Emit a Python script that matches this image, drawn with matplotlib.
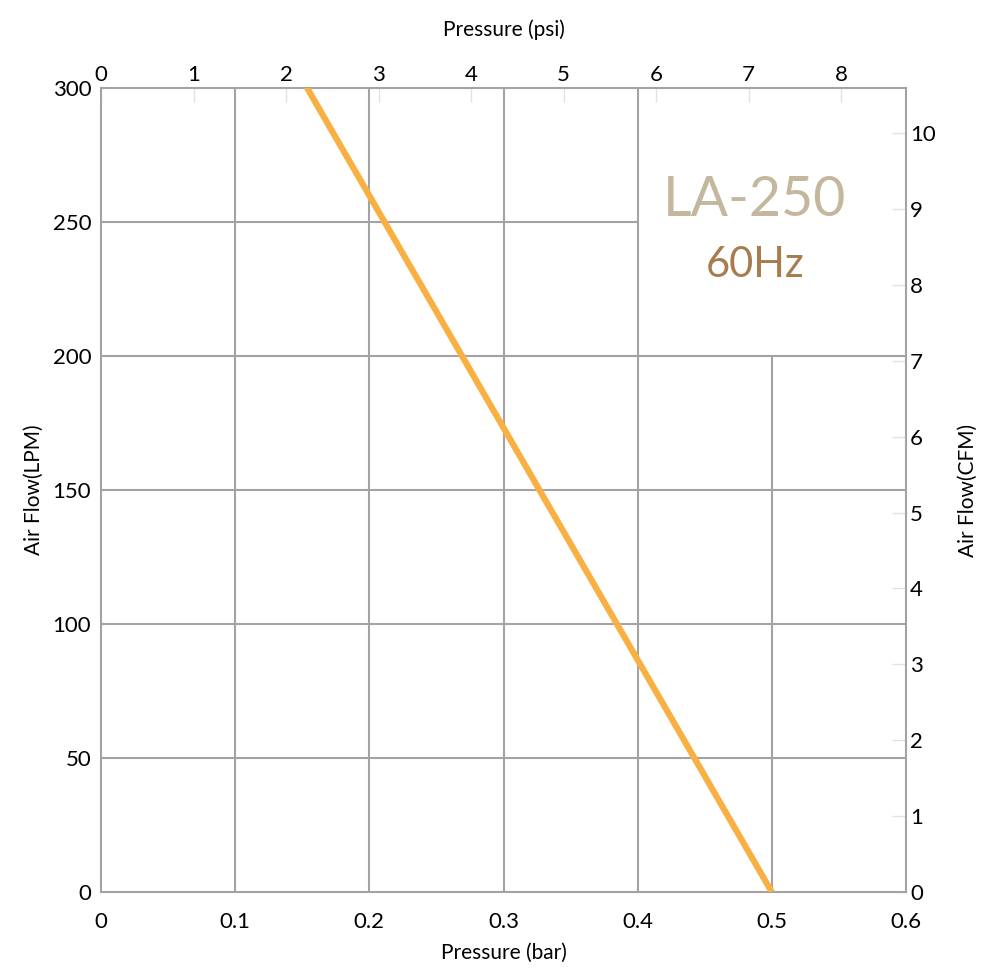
import numpy as np
import matplotlib
matplotlib.use('Agg')
import matplotlib.pyplot as plt

plt.rcParams['font.family'] = ['Lato', 'DejaVu Sans']

# performance curve of the LA-250 at 60Hz
pressure_bar = [0.0, 0.5]
flow_lpm = [433, 0]

bar_ticks = [0, 0.1, 0.2, 0.3, 0.4, 0.5, 0.6]
lpm_ticks = [0, 50, 100, 150, 200, 250, 300]
psi_ticks = [0, 1, 2, 3, 4, 5, 6, 7, 8]
cfm_ticks = [0, 1, 2, 3, 4, 5, 6, 7, 8, 9, 10]

# grid lines (value, from, to) - the label box at top right has none
h_grid = [(50, 0, 0.6), (100, 0, 0.6), (150, 0, 0.6), (200, 0, 0.6), (250, 0, 0.4)]
v_grid = [(0.1, 0, 300), (0.2, 0, 300), (0.3, 0, 300), (0.4, 0, 300), (0.5, 0, 200)]

PSI_PER_BAR = 14.5038
LPM_PER_CFM = 28.3168

grid_col = '#a3a3a6'

fig = plt.figure(figsize=(10, 9.76), dpi=100)
ax = fig.add_axes([0.101, 0.086, 0.805, 0.824])

for y, x0, x1 in h_grid:
    ax.hlines(y, x0, x1, color=grid_col, lw=1.5, zorder=1)
for x, y0, y1 in v_grid:
    ax.vlines(x, y0, y1, color=grid_col, lw=1.5, zorder=1)

ax.plot(pressure_bar, flow_lpm, color='#f9b043', lw=4.5, solid_capstyle='butt', zorder=3)

ax.set_xlim(0, 0.6)
ax.set_ylim(0, 300)
ax.set_xticks(bar_ticks)
ax.set_xticklabels(['0', '0.1', '0.2', '0.3', '0.4', '0.5', '0.6'])
ax.set_yticks(lpm_ticks)
ax.tick_params(axis='x', length=0, pad=14, labelsize=16)
ax.tick_params(axis='y', length=0, pad=7, labelsize=16)
for s in ax.spines.values():
    s.set_color(grid_col)
    s.set_linewidth(1.5)

ax.set_xlabel('Pressure (bar)', fontsize=15, labelpad=8)
ax.set_ylabel('Air Flow(LPM)', fontsize=15, labelpad=6)

top = ax.secondary_xaxis('top', functions=(lambda b: b * PSI_PER_BAR, lambda p: p / PSI_PER_BAR))
top.set_xticks(psi_ticks)
top.tick_params(direction='in', length=10, width=1, color='#e2e2e2', pad=2, labelsize=16)
top.spines['top'].set_visible(False)
top.set_xlabel('Pressure (psi)', fontsize=15, labelpad=21)

right = ax.secondary_yaxis('right', functions=(lambda l: l / LPM_PER_CFM, lambda c: c * LPM_PER_CFM))
right.set_yticks(cfm_ticks)
right.tick_params(direction='in', length=10, width=1, color='#e2e2e2', pad=3, labelsize=16)
right.spines['right'].set_visible(False)
right.set_ylabel('Air Flow(CFM)', fontsize=15, labelpad=16)

ax.text(0.4875, 258, 'LA-250', color='#c3b79d', fontsize=40, ha='center', va='center')
ax.text(0.4875, 234, '60Hz', color='#a87c4f', fontsize=30, ha='center', va='center')

fig.savefig('out.png', dpi=100)
